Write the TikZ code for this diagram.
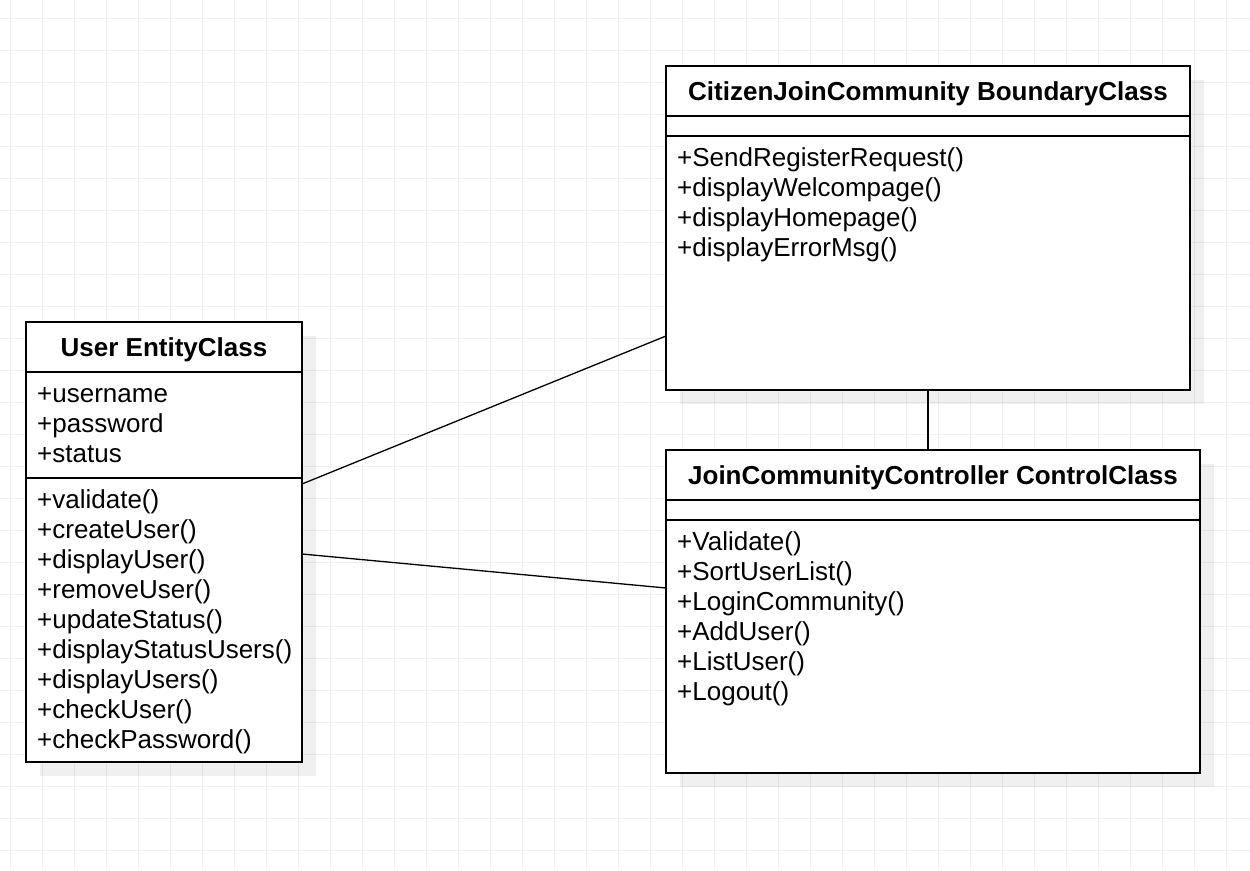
\documentclass[tikz,border=0pt]{standalone}
\usepackage{fontspec}
\setmainfont{Liberation Sans}
\usetikzlibrary{positioning, backgrounds}

\begin{document}
\begin{tikzpicture}[x=1pt,y=-1pt,
    box/.style={draw,line width=1.6pt,fill=white,inner sep=0pt,outer sep=0pt},
    head/.style={box,font=\bfseries\fontsize{26}{30}\selectfont,minimum height=50pt,text height=19pt,text depth=1pt},
    members/.style={anchor=north west,align=left,inner xsep=11pt,inner ysep=9pt,font=\fontsize{26}{30}\selectfont},
    link/.style={line width=1.3pt},
    gridline/.style={draw=black!6,line width=0.8pt},
    shade/.style={fill=black,opacity=0.06}]
    \useasboundingbox (0,0) rectangle (1250,870);

    % background grid
    \begin{scope}[on background layer]
        \foreach \gx in {10.7,42.7,...,1250} \draw[gridline] (\gx,0) -- (\gx,870);
        \foreach \gy in {18.3,50.3,...,870} \draw[gridline] (0,\gy) -- (1250,\gy);
    \end{scope}

    % User entity class
    \node[head,minimum width=276pt,anchor=north west] (usrhead) at (26,322) {User EntityClass};
    \node[box,minimum width=276pt,minimum height=106pt,below=0pt of usrhead] (usrattr) {};
    \node[box,minimum width=276pt,minimum height=284pt,below=0pt of usrattr] (usrops) {};
    \node[members] (usrattrtxt) at (usrattr.north west) {\strut+username\\+password\\+status\strut};
    \node[members] (usropstxt) at (usrops.north west) {\strut+validate()\\+createUser()\\+displayUser()\\+removeUser()\\+updateStatus()\\+displayStatusUsers()\\+displayUsers()\\+checkUser()\\+checkPassword()\strut};

    % boundary class
    \node[head,minimum width=524pt,anchor=north west] (bndhead) at (666,66) {CitizenJoinCommunity BoundaryClass};
    \node[box,minimum width=524pt,minimum height=20pt,below=0pt of bndhead] (bndattr) {};
    \node[box,minimum width=524pt,minimum height=254pt,below=0pt of bndattr] (bndops) {};
    \node[members] (bndopstxt) at (bndops.north west) {\strut+SendRegisterRequest()\\+displayWelcompage()\\+displayHomepage()\\+displayErrorMsg()\strut};

    % control class
    \node[head,minimum width=534pt,anchor=north west] (ctlhead) at (666,450) {JoinCommunityController ControlClass};
    \node[box,minimum width=534pt,minimum height=20pt,below=0pt of ctlhead] (ctlattr) {};
    \node[box,minimum width=534pt,minimum height=253pt,below=0pt of ctlattr] (ctlops) {};
    \node[members] (ctlopstxt) at (ctlops.north west) {\strut+Validate()\\+SortUserList()\\+LoginCommunity()\\+AddUser()\\+ListUser()\\+Logout()\strut};

    % shadows
    \begin{scope}[on background layer]
        \fill[shade] ([shift={(14,14)}]usrhead.north west) rectangle ([shift={(14,14)}]usrops.south east);
        \fill[shade] ([shift={(14,14)}]bndhead.north west) rectangle ([shift={(14,14)}]bndops.south east);
        \fill[shade] ([shift={(14,14)}]ctlhead.north west) rectangle ([shift={(14,14)}]ctlops.south east);
    \end{scope}

    % associations
    \draw[link] ([yshift=-6pt]usrops.north east) -- ([yshift=54pt]bndops.south west);
    \draw[link] ([yshift=-76pt]usrops.north east) -- ([yshift=-68pt]ctlops.north west);
    \draw[link] (bndops.south) -- (bndops.south |- ctlhead.north);
\end{tikzpicture}
\end{document}
